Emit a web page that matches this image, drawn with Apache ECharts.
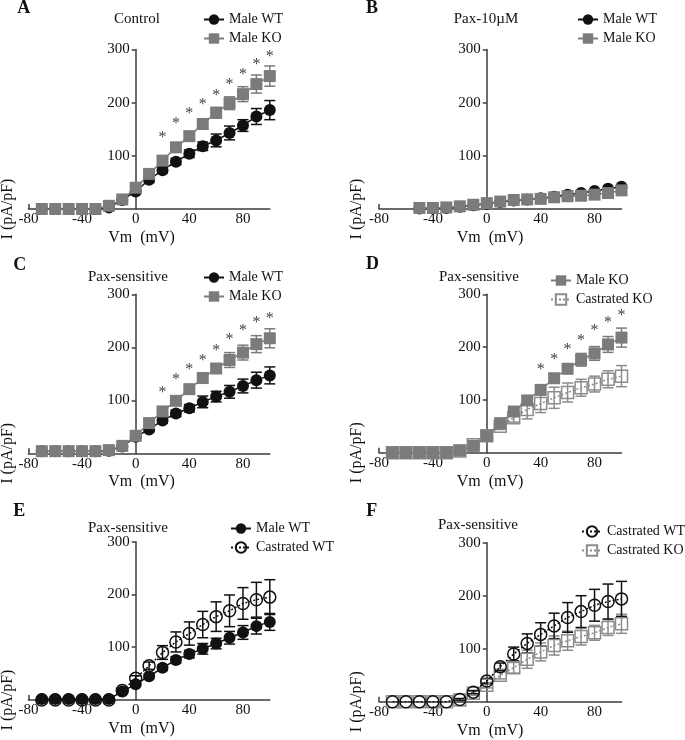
<!DOCTYPE html>
<html><head><meta charset="utf-8">
<script src="https://cdn.jsdelivr.net/npm/echarts@6/dist/echarts.min.js"></script>
<style>html,body{margin:0;padding:0;background:#fff}#c{width:685px;height:740px}</style>
</head><body><div id="c"></div>
<script>
// ---- data ----
const V = [-70,-60,-50,-40,-30,-20,-10,0,10,20,30,40,50,60,70,80,90,100];
const VB = [-50,-40,-30,-20,-10,0,10,20,30,40,50,60,70,80,90,100];
const xTickLabels = [-80,-40,0,40,80];
const yTickLabels = [100,200,300];

// Panel A (Control)
const aMaleWT    = [0,0,0,0,0,3,17,33,55,73,89,104,118,129,143,157,174,186];
const aMaleWTerr = [0,0,0,0,0,2,3,4,5,5,6,7,8,12,13,11,15,18];
const aMaleKO    = [0,0,0,0,0,6,18,40,66,91,116,137,160,181,199,216,235,250];
const aMaleKOerr = [0,0,0,0,0,2,3,4,5,6,7,8,9,10,12,14,17,19];
const aStarV = [20,30,40,50,60,70,80,90,100];
const aStarY = [140,165,184,202,219,240,258,276,291];

// Panel B (Pax-10uM)
const bMaleWT = [1,1,2,4,7,10,13,16,18,20,23,27,30,34,38,42];
const bMaleKO = [2,2,3,5,8,11,14,17,18,19,22,24,25,27,30,35];

// Panel C (Pax-sensitive)
const cMaleWT    = [4,4,4,4,4,5,13,31,45,62,75,85,97,107,116,127,138,147];
const cMaleWTerr = [0,0,0,0,0,1,2,3,4,5,6,7,11,10,12,13,15,16];
const cMaleKO    = [4,4,4,4,4,6,14,33,57,79,99,121,142,160,176,190,206,217];
const cMaleKOerr = [0,0,0,0,0,1,2,3,4,5,6,7,8,9,14,14,16,18];
const cStarV = [20,30,40,50,60,70,80,90,100];
const cStarY = [120,145,164,181,200,219,236,252,259];

// Panel D (Pax-sensitive)
const dMaleKO     = [0,0,0,0,0,4,13,32,56,78,99,119,141,159,176,188,205,218];
const dMaleKOerr  = [0,0,0,0,0,1,2,3,4,5,6,7,8,9,12,13,15,18];
const dCastKO     = [0,0,0,0,0,3,15,32,50,66,82,93,104,114,123,130,139,145];
const dCastKOerr  = [0,0,0,0,0,2,4,5,6,8,18,17,20,18,16,15,16,20];
const dStarV = [40,50,60,70,80,90,100];
const dStarY = [163,182,200,217,236,252,265];

// Panel E (Pax-sensitive)
const eMaleWT     = [2,2,2,2,2,2,16,30,45,61,76,87,97,107,118,128,140,148];
const eMaleWTerr  = [0,0,0,0,0,1,2,3,4,5,6,7,10,10,12,13,15,16];
const eCastWT     = [0,0,0,0,0,0,18,41,65,90,110,126,143,158,169,183,190,195];
const eCastWTerr  = [0,0,0,0,0,2,4,5,7,13,19,22,25,28,30,30,33,33];

// Panel F (Pax-sensitive)
const fCastWT     = [0,0,0,0,0,4,18,39,66,90,110,127,143,159,170,182,189,194];
const fCastWTerr  = [0,0,0,0,0,2,3,5,7,13,18,22,24,28,30,30,33,33];
const fCastKO     = [0,0,0,0,0,3,16,31,50,64,80,94,106,115,123,130,140,147];
const fCastKOerr  = [0,0,0,0,0,2,4,5,7,10,17,17,18,18,16,14,15,18];

// ---- styles ----
const FONT = "'Liberation Serif','Times New Roman',serif";
const BLACK = '#111111';
const GRAY = '#7b7b7b';
const GRAYL = '#8c8c8c';
const AXIS = '#3c3c3c';
const X_MIN = -80, X_MAX = 100;

const styles = {
  'Male WT':      {symbol:'circle', fill:BLACK, stroke:BLACK, line:BLACK, dash:'solid'},
  'Male KO':      {symbol:'rect',   fill:GRAY,  stroke:GRAY,  line:GRAY,  dash:'solid'},
  'Castrated WT': {symbol:'circle', fill:'rgba(255,255,255,0)', stroke:BLACK, line:BLACK, dash:[2,2]},
  'Castrated KO': {symbol:'rect',   fill:'rgba(255,255,255,0)', stroke:GRAYL, line:GRAYL, dash:[2,2]}
};

function lineS(name, xs, ys, idx, z) {
  const s = styles[name];
  return {
    type:'line', name, xAxisIndex:idx, yAxisIndex:idx, clip:false, z:z,
    data: xs.map((x,i)=>[x, ys[i]]),
    symbol: s.symbol, symbolSize: 12, showAllSymbol:true,
    itemStyle:{color:s.fill, borderColor:s.stroke, borderWidth: s.fill.indexOf('rgba')===0 ? 1.5 : 0, opacity:1},
    lineStyle:{color:s.line, width:1.5, type:s.dash},
    emphasis:{disabled:true}, animation:false
  };
}
function errS(xs, ys, es, idx, color, z) {
  return {
    type:'custom', xAxisIndex:idx, yAxisIndex:idx, clip:false, z:z, silent:true, animation:false,
    data: xs.map((x,i)=>[x, ys[i], es[i]]),
    encode:{x:0, y:1},
    renderItem(params, api) {
      const x = api.value(0), y = api.value(1), e = api.value(2);
      if (!e) return {type:'group', children:[]};
      const t = api.coord([x, y+e]), b = api.coord([x, y-e]);
      const hw = 5.5, st = {stroke:color, lineWidth:1.5};
      return {type:'group', children:[
        {type:'line', shape:{x1:t[0],y1:t[1],x2:b[0],y2:b[1]}, style:st},
        {type:'line', shape:{x1:t[0]-hw,y1:t[1],x2:t[0]+hw,y2:t[1]}, style:st},
        {type:'line', shape:{x1:b[0]-hw,y1:b[1],x2:b[0]+hw,y2:b[1]}, style:st}
      ]};
    }
  };
}
function starS(xs, ys, idx) {
  return {
    type:'custom', xAxisIndex:idx, yAxisIndex:idx, clip:false, z:5, silent:true, animation:false,
    data: xs.map((x,i)=>[x, ys[i]]),
    encode:{x:0, y:1},
    renderItem(params, api) {
      const p = api.coord([api.value(0), api.value(1)]);
      return {type:'text', x:p[0], y:p[1]+3, style:{text:'*', font:'16px '+FONT, fill:'#444', align:'center', verticalAlign:'middle'}};
    }
  };
}

const grids = [
  {left:28.4, top:49.5, width:241.4, height:159.5},
  {left:379,  top:49.5, width:242.5, height:159.5},
  {left:28.4, top:294.3, width:241.4, height:159},
  {left:379,  top:294.3, width:242.5, height:158.4},
  {left:28.4, top:541.7, width:241.4, height:158.3},
  {left:379,  top:542.7, width:242.5, height:159}
];

const xAxes = grids.map((g,i)=>({
  type:'value', gridIndex:i, min:X_MIN, max:X_MAX, interval:40,
  axisLine:{show:true, onZero:true, lineStyle:{color:AXIS, width:1.5}},
  axisTick:{show:true, inside:true, length:5, customValues:[-80], lineStyle:{color:AXIS, width:1.5}},
  axisLabel:{show:true, customValues:xTickLabels, margin:3, fontSize:15, fontFamily:FONT, color:BLACK,
             formatter:v=> xTickLabels.indexOf(v)>=0 ? String(v) : ''},
  splitLine:{show:false}
}));
// y axis sits at x = 0 : shift it from the grid's left edge to the zero of the x axis
const yAxes = grids.map((g,i)=>({
  type:'value', gridIndex:i, min:0, max:300, interval:100, position:'left',
  offset: -((0 - X_MIN) / (X_MAX - X_MIN)) * g.width,
  axisLine:{show:true, onZero:false, lineStyle:{color:AXIS, width:1.5}},
  axisTick:{show:true, inside:false, length:4, customValues:yTickLabels, lineStyle:{color:AXIS, width:1.5}},
  axisLabel:{show:true, customValues:yTickLabels, margin:6, fontSize:15, fontFamily:FONT, color:BLACK,
             formatter:v=> yTickLabels.indexOf(v)>=0 ? String(v) : ''},
  splitLine:{show:false}
}));

const series = [
  // A
  errS(V, aMaleWT, aMaleWTerr, 0, BLACK, 1),
  errS(V, aMaleKO, aMaleKOerr, 0, GRAY, 1),
  lineS('Male WT', V, aMaleWT, 0, 2),
  lineS('Male KO', V, aMaleKO, 0, 3),
  starS(aStarV, aStarY, 0),
  // B
  lineS('Male WT', VB, bMaleWT, 1, 2),
  lineS('Male KO', VB, bMaleKO, 1, 3),
  // C
  errS(V, cMaleWT, cMaleWTerr, 2, BLACK, 1),
  errS(V, cMaleKO, cMaleKOerr, 2, GRAY, 1),
  lineS('Male WT', V, cMaleWT, 2, 2),
  lineS('Male KO', V, cMaleKO, 2, 3),
  starS(cStarV, cStarY, 2),
  // D
  errS(V, dCastKO, dCastKOerr, 3, GRAYL, 1),
  errS(V, dMaleKO, dMaleKOerr, 3, GRAY, 1),
  lineS('Castrated KO', V, dCastKO, 3, 2),
  lineS('Male KO', V, dMaleKO, 3, 3),
  starS(dStarV, dStarY, 3),
  // E
  errS(V, eCastWT, eCastWTerr, 4, BLACK, 1),
  errS(V, eMaleWT, eMaleWTerr, 4, BLACK, 1),
  lineS('Castrated WT', V, eCastWT, 4, 2),
  lineS('Male WT', V, eMaleWT, 4, 3),
  // F
  errS(V, fCastKO, fCastKOerr, 5, GRAYL, 1),
  errS(V, fCastWT, fCastWTerr, 5, BLACK, 1),
  lineS('Castrated KO', V, fCastKO, 5, 2),
  lineS('Castrated WT', V, fCastWT, 5, 3)
];

function legendAt(names, left, top) {
  return {data:names, left:left, top:top, orient:'vertical', align:'left', padding:0,
          itemWidth:20, itemHeight:13, itemGap:4, selectedMode:false,
          textStyle:{fontSize:14, fontFamily:FONT, color:BLACK, lineHeight:15}};
}
const legends = [
  legendAt(['Male WT','Male KO'], 203, 12),
  legendAt(['Male WT','Male KO'], 577, 12),
  legendAt(['Male WT','Male KO'], 203, 270),
  legendAt(['Male KO','Castrated KO'], 550, 273),
  legendAt(['Male WT','Castrated WT'], 230, 521),
  legendAt(['Castrated WT','Castrated KO'], 581, 524)
];

function txt(text, x, y, size, bold, rot) {
  return {type:'text', x:x, y:y, rotation:rot||0, silent:true,
          style:{text:text, font:(bold?'bold ':'')+size+'px '+FONT, fill:BLACK, align:'center', verticalAlign:'middle'}};
}
const graphics = [
  txt('A', 23.7, 8.5, 18, true), txt('B', 372, 8.5, 18, true),
  txt('C', 19.7, 265, 18, true), txt('D', 372.5, 264.5, 18, true),
  txt('E', 19.2, 511, 18, true), txt('F', 371.7, 511, 18, true),
  txt('Control', 137, 19, 15), txt('Pax-10\u00B5M', 486, 19, 15),
  txt('Pax-sensitive', 128, 276.7, 15), txt('Pax-sensitive', 479, 276.7, 15),
  txt('Pax-sensitive', 128, 527.7, 15), txt('Pax-sensitive', 478, 525, 15),
  txt('Vm  (mV)', 141.5, 238, 16), txt('Vm  (mV)', 490, 238, 16),
  txt('Vm  (mV)', 141.5, 482, 16), txt('Vm  (mV)', 490, 482, 16),
  txt('Vm  (mV)', 141.5, 729, 16), txt('Vm  (mV)', 490, 730.5, 16),
  txt('I (pA/pF)', 8, 209, 16, false, Math.PI/2), txt('I (pA/pF)', 357, 209, 16, false, Math.PI/2),
  txt('I (pA/pF)', 8, 453.3, 16, false, Math.PI/2), txt('I (pA/pF)', 357, 452.7, 16, false, Math.PI/2),
  txt('I (pA/pF)', 8, 700, 16, false, Math.PI/2), txt('I (pA/pF)', 357, 701.7, 16, false, Math.PI/2)
];

const chart = echarts.init(document.getElementById('c'), null, {renderer:'canvas'});
chart.setOption({
  animation:false,
  backgroundColor:'#ffffff',
  grid:grids, xAxis:xAxes, yAxis:yAxes,
  legend:legends, series:series, graphic:graphics
});
</script></body></html>
